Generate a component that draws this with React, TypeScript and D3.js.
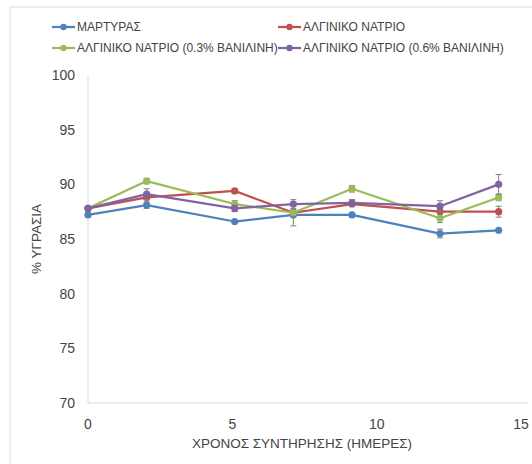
import React from "react";
import * as d3 from "d3";

const days = [0, 2, 5, 7, 9, 12, 14];
const seriesNames = [
  "ΜΑΡΤΥΡΑΣ",
  "ΑΛΓΙΝΙΚΟ ΝΑΤΡΙΟ",
  "ΑΛΓΙΝΙΚΟ ΝΑΤΡΙΟ (0.3% ΒΑΝΙΛΙΝΗ)",
  "ΑΛΓΙΝΙΚΟ ΝΑΤΡΙΟ (0.6% ΒΑΝΙΛΙΝΗ)",
];
const controlValues = [87.2, 88.1, 86.6, 87.2, 87.2, 85.5, 85.8];
const alginateValues = [87.8, 88.8, 89.4, 87.4, 88.2, 87.5, 87.5];
const vanillin03Values = [87.8, 90.3, 88.2, 87.4, 89.6, 86.9, 88.8];
const vanillin06Values = [87.8, 89.1, 87.8, 88.2, 88.3, 88.0, 90.0];
const controlErr = [0, 0.3, 0, 1.0, 0.2, 0.4, 0];
const alginateErr = [0, 0.2, 0.2, 0.2, 0.2, 0.2, 0.5];
const vanillin03Err = [0, 0.25, 0.3, 0.3, 0.3, 0.4, 0.3];
const vanillin06Err = [0, 0.5, 0.3, 0.4, 0.3, 0.5, 0.9];
const colors = ["#4f81bd", "#c0504d", "#9bbb59", "#8064a2"];
const xTicks = [0, 5, 10, 15];
const yTicks = [70, 75, 80, 85, 90, 95, 100];

const allValues = [controlValues, alginateValues, vanillin03Values, vanillin06Values];
const allErrs = [controlErr, alginateErr, vanillin03Err, vanillin06Err];

export default function App() {
  const W = 532, H = 464;
  const x = d3.scaleLinear().domain([0, 15]).range([88, 528]);
  const xLabel = d3.scaleLinear().domain([0, 15]).range([88, 521]);
  const y = d3.scaleLinear().domain([70, 100]).range([403, 75]);
  const line = d3.line<[number, number]>().x((d) => x(d[0])).y((d) => y(d[1]));
  const font = "'Liberation Sans', Arial, sans-serif";
  const textColor = "#444444";
  const legend = [
    { lx: 52, ly: 27 },
    { lx: 278, ly: 27 },
    { lx: 52, ly: 48 },
    { lx: 278, ly: 48 },
  ];
  return (
    <svg
      width={W}
      height={H}
      style={{ position: "absolute", left: 0, top: 0, background: "#fff" }}
      fontFamily={font}
    >
      <rect x={10} y={7} width={W} height={H} fill="#fff" stroke="#d9d9d9" strokeWidth={1} />
      {seriesNames.map((n, i) => (
        <g key={n}>
          <line x1={legend[i].lx} x2={legend[i].lx + 23} y1={legend[i].ly} y2={legend[i].ly} stroke={colors[i]} strokeWidth={2.25} />
          <circle cx={legend[i].lx + 11.5} cy={legend[i].ly} r={3.2} fill={colors[i]} />
          <text x={legend[i].lx + 25} y={legend[i].ly} dy="0.35em" fontSize={12} fill={textColor}>
            {n}
          </text>
        </g>
      ))}
      <line x1={x(0)} x2={x(0)} y1={y(100)} y2={y(70)} stroke="#d9d9d9" strokeWidth={1} />
      <line x1={x(0)} x2={x(15)} y1={y(70)} y2={y(70)} stroke="#d9d9d9" strokeWidth={1} />
      {yTicks.map((t) => (
        <text key={t} x={75} y={y(t)} dy="0.35em" textAnchor="end" fontSize={14} fill={textColor}>
          {t}
        </text>
      ))}
      {xTicks.map((t) => (
        <text key={t} x={xLabel(t)} y={424} dy="0.35em" textAnchor="middle" fontSize={14} fill={textColor}>
          {t}
        </text>
      ))}
      <text x={302} y={443} dy="0.35em" textAnchor="middle" fontSize={13.5} fill={textColor}>
        ΧΡΟΝΟΣ ΣΥΝΤΗΡΗΣΗΣ (ΗΜΕΡΕΣ)
      </text>
      <text
        transform={`translate(36,${y(85)}) rotate(-90)`}
        dy="0.35em"
        textAnchor="middle"
        fontSize={13.5}
        fill={textColor}
      >
        % ΥΓΡΑΣΙΑ
      </text>
      {allValues.map((vals, si) => {
        const pts = days.map((d, i) => [d, vals[i]] as [number, number]);
        return (
          <g key={si}>
            <path d={line(pts) || ""} fill="none" stroke={colors[si]} strokeWidth={2.25} strokeLinejoin="round" />
            {pts.map((p, i) => {
              const e = allErrs[si][i];
              if (!e) return null;
              const cx = x(p[0]);
              return (
                <g key={i} stroke="#7f7f7f" strokeWidth={1}>
                  <line x1={cx} x2={cx} y1={y(p[1] - e)} y2={y(p[1] + e)} />
                  <line x1={cx - 3} x2={cx + 3} y1={y(p[1] - e)} y2={y(p[1] - e)} />
                  <line x1={cx - 3} x2={cx + 3} y1={y(p[1] + e)} y2={y(p[1] + e)} />
                </g>
              );
            })}
            {pts.map((p, i) => (
              <circle key={"c" + i} cx={x(p[0])} cy={y(p[1])} r={3.6} fill={colors[si]} />
            ))}
          </g>
        );
      })}
    </svg>
  );
}
